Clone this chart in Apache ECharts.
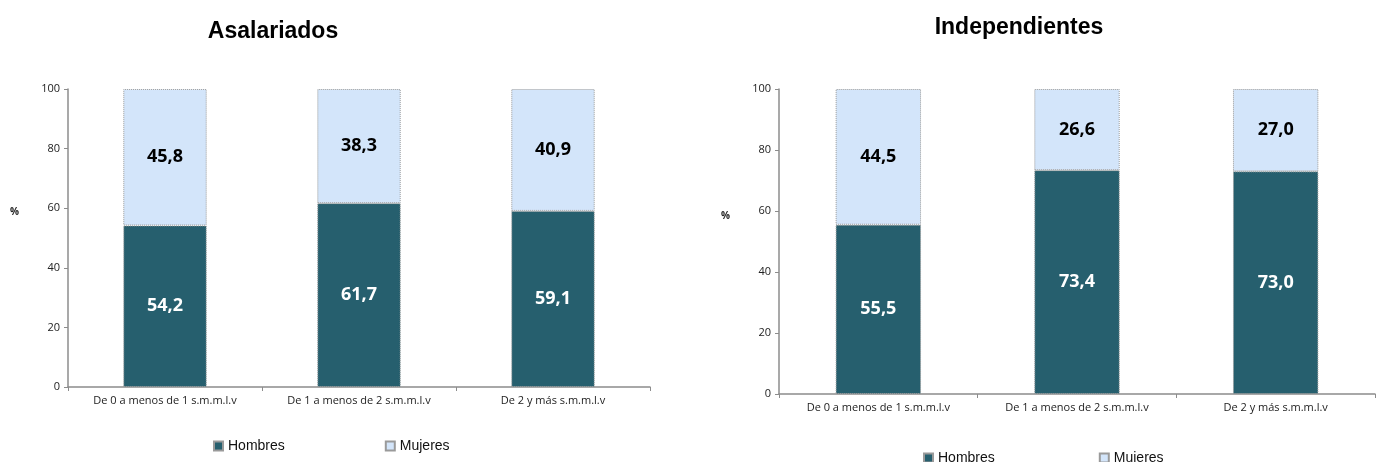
<!DOCTYPE html>
<html><head><meta charset="utf-8">
<script src="https://cdn.jsdelivr.net/npm/echarts@6/dist/echarts.min.js"></script>
<style>html,body{margin:0;padding:0;background:#fff}#c{width:1377px;height:462px}</style>
</head><body><div id="c"></div>
<script>
const categories = ['De 0 a menos de 1 s.m.m.l.v', 'De 1 a menos de 2 s.m.m.l.v', 'De 2 y más s.m.m.l.v'];
const asalHombres = [54.2, 61.7, 59.1];
const asalMujeres = [45.8, 38.3, 40.9];
const indepHombres = [55.5, 73.4, 73.0];
const indepMujeres = [44.5, 26.6, 27.0];
const yTicks = [0, 20, 40, 60, 80, 100];

const dark = '#265f6e', light = '#d3e5fa';
const fmt = p => p.value.toFixed(1).replace('.', ',');
const font = '"Open Sans", "Liberation Sans", sans-serif';

function xAx(gi) {
  return {
    type: 'category', gridIndex: gi, data: categories,
    axisLine: { lineStyle: { color: '#8c8c8c', width: 1.5 } },
    axisTick: { show: true, length: 4, lineStyle: { color: '#8c8c8c' } },
    axisLabel: { color: '#222', fontSize: 11, fontFamily: font, margin: 8 }
  };
}
function yAx(gi) {
  return {
    type: 'value', gridIndex: gi, min: 0, max: 100, interval: 20,
    axisLine: { show: true, lineStyle: { color: '#8c8c8c', width: 1.5 } },
    axisTick: { show: true, length: 4, lineStyle: { color: '#8c8c8c' } },
    axisLabel: { color: '#222', fontSize: 11, fontFamily: font, margin: 8,
      formatter: v => yTicks.includes(v) ? String(v) : '' },
    splitLine: { show: false }
  };
}
function ser(name, data, gi, color, labelColor) {
  return {
    name, type: 'bar', stack: 's' + gi, xAxisIndex: gi, yAxisIndex: gi, data,
    barWidth: '43%',
    itemStyle: { color, borderColor: '#9a9a9a', borderWidth: 1, borderType: 'dotted' },
    label: { show: true, position: 'inside', formatter: fmt, color: labelColor,
      fontSize: 18, fontWeight: 'bold', fontFamily: font }
  };
}

const legendText = { fontFamily: '"Liberation Sans", Arial, sans-serif', fontSize: 14, color: '#111' };

const chart = echarts.init(document.getElementById('c'));
chart.setOption({
  animation: false,
  title: [
    { text: 'Asalariados', left: 268, top: 15, textAlign: 'center',
      textStyle: { fontFamily: '"Liberation Sans", Arial, sans-serif', fontSize: 23, fontWeight: 'bold', color: '#000' } },
    { text: 'Independientes', left: 1014, top: 11, textAlign: 'center',
      textStyle: { fontFamily: '"Liberation Sans", Arial, sans-serif', fontSize: 23, fontWeight: 'bold', color: '#000' } }
  ],
  graphic: [
    { type: 'text', left: 10, top: 207, style: { text: '%', fill: '#222', font: 'bold 10px "Open Sans", sans-serif' } },
    { type: 'text', left: 721, top: 211, style: { text: '%', fill: '#222', font: 'bold 10px "Open Sans", sans-serif' } }
  ],
  legend: [
    { data: ['Hombres', 'Mujeres'], left: 208, top: 434, itemGap: 100, itemWidth: 9, itemHeight: 9,
      icon: 'rect', textStyle: legendText },
    { data: ['Hombres', 'Mujeres'], left: 918, top: 446, itemGap: 104, itemWidth: 9, itemHeight: 9,
      icon: 'rect', textStyle: legendText }
  ],
  grid: [
    { left: 68, top: 89, width: 582, height: 298 },
    { left: 779, top: 89, width: 596, height: 305 }
  ],
  xAxis: [xAx(0), xAx(1)],
  yAxis: [yAx(0), yAx(1)],
  series: [
    ser('Hombres', asalHombres, 0, dark, '#fff'),
    ser('Mujeres', asalMujeres, 0, light, '#000'),
    ser('Hombres', indepHombres, 1, dark, '#fff'),
    ser('Mujeres', indepMujeres, 1, light, '#000')
  ]
});
</script></body></html>
